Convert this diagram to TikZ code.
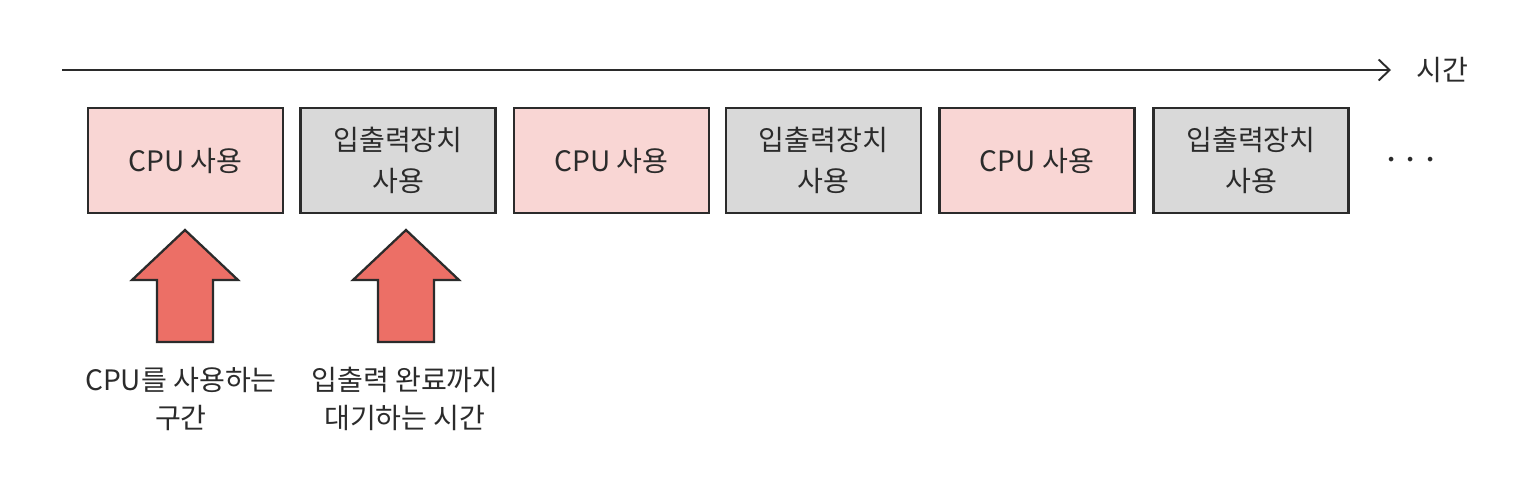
\documentclass[tikz,border=0pt]{standalone}
\usepackage{fontspec}
\setmainfont{Noto Sans CJK KR}
\usetikzlibrary{arrows.meta, positioning}
\definecolor{cpupink}{HTML}{F9D6D4}
\definecolor{iogray}{HTML}{D9D9D9}
\definecolor{uparrowred}{HTML}{EC6F66}
\definecolor{inkgray}{HTML}{2B2B2B}

\begin{document}
\begin{tikzpicture}[>={Straight Barb[length=2.2mm, width=4.2mm]}, font=\fontsize{16}{21.5}\selectfont,
  cpubox/.style={draw=inkgray, fill=cpupink, line width=1.3pt, minimum width=3.9cm, minimum height=2.1cm, align=center, text=inkgray, font=\fontsize{16}{23.5}\selectfont},
  iobox/.style={cpubox, fill=iogray},
  bigarrow/.style={draw=inkgray, fill=uparrowred, line width=1.3pt, line join=miter}]

\useasboundingbox (0,0) rectangle (30.76,-10.04);

% Time axis
\coordinate (t0) at (1.24,-1.40);
\coordinate (t1) at (27.82,-1.40);
\draw[->, line width=1.1pt, inkgray] (t0) -- (t1);
\node[right=0.38cm of t1, text=inkgray] (timelabel) {시간};

% Define nodes
\node[cpubox] (cpu1) at (3.71,-3.21) {CPU 사용};
\node[iobox] (io1) at (7.96,-3.21) {입출력장치\\사용};
\node[cpubox] (cpu2) at (12.23,-3.21) {CPU 사용};
\node[iobox] (io2) at (16.47,-3.21) {입출력장치\\사용};
\node[cpubox] (cpu3) at (20.74,-3.21) {CPU 사용};
\node[iobox] (io3) at (25.02,-3.21) {입출력장치\\사용};
\node[text=inkgray] (more) at (28.22,-3.22) {\Huge$\cdots$};

% Up arrows
\coordinate (tip1) at (3.70,-4.60);
\coordinate (tip2) at (8.12,-4.60);
\draw[bigarrow] (tip1) -- ++(1.06,-1.0) -- ++(-0.5,0) -- ++(0,-1.24) -- ++(-1.12,0) -- ++(0,1.24) -- ++(-0.5,0) -- cycle;
\draw[bigarrow] (tip2) -- ++(1.06,-1.0) -- ++(-0.5,0) -- ++(0,-1.24) -- ++(-1.12,0) -- ++(0,1.24) -- ++(-0.5,0) -- cycle;

% Labels
\node[align=center, text=inkgray] (cpulabel) at (3.62,-7.98) {CPU를 사용하는\\구간};
\node[align=center, text=inkgray] (iolabel) at (8.10,-7.98) {입출력 완료까지\\대기하는 시간};

\end{tikzpicture}
\end{document}
